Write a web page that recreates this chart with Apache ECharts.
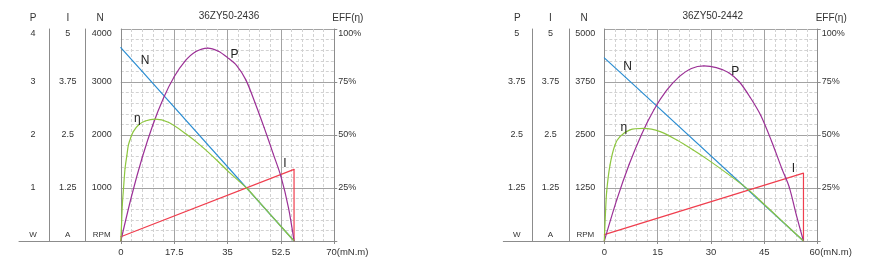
<!DOCTYPE html>
<html><head><meta charset="utf-8">
<script src="https://cdn.jsdelivr.net/npm/echarts@6/dist/echarts.min.js"></script>
<style>html,body{margin:0;padding:0;background:#fff}#c{width:874px;height:266px}</style>
</head><body><div id="c"></div>
<script>
// ---------- Chart 1 : 36ZY50-2436 ----------
const title1 = '36ZY50-2436';
const xTicks1 = [0, 17.5, 35, 52.5, 70];
const pTicks1 = [0, 1, 2, 3, 4];
const iTicks1 = [0, 1.25, 2.5, 3.75, 5];
const nTicks1 = [0, 1000, 2000, 3000, 4000];
const effTicks = [0, 25, 50, 75, 100];

const n1T = [0, 7, 56.8];
const n1V = [3650, 3200, 0];
const i1T = [0, 56.8, 56.8];
const i1V = [0.1, 1.69, 0];
const p1T = [0, 3.5, 7, 10.5, 14, 17.5, 21, 24.5, 28.5, 32, 35, 38, 41, 44, 47, 50, 52.5, 55, 56.8];
const p1V = [0, 0.84, 1.57, 2.19, 2.70, 3.10, 3.39, 3.57, 3.64, 3.58, 3.46, 3.31, 3.04, 2.61, 2.14, 1.64, 1.22, 0.62, 0];
const e1T = [0, 0.25, 0.5, 0.9, 1.4, 2.0, 2.5, 3.2, 4.1, 5.8, 8, 11.3, 15.6, 21.1, 26.6, 32, 35.3, 41.3, 45.2, 50.6, 56.8];
const e1V = [0, 8, 17, 25, 34.3, 40.5, 45.3, 48.5, 51.6, 54.7, 56.6, 57.5, 56.0, 50.8, 44.5, 37.4, 32.7, 24.9, 18.7, 10.0, 0];

// ---------- Chart 2 : 36ZY50-2442 ----------
const title2 = '36ZY50-2442';
const xTicks2 = [0, 15, 30, 45, 60];
const pTicks2 = [0, 1.25, 2.5, 3.75, 5];
const iTicks2 = [0, 1.25, 2.5, 3.75, 5];
const nTicks2 = [0, 1250, 2500, 3750, 5000];

const n2T = [0, 6, 56];
const n2V = [4320, 3860, 0];
const i2T = [0, 56, 56];
const i2V = [0.15, 1.6, 0];
const p2T = [0, 3.5, 7, 10.5, 14, 17.5, 21, 24.5, 28, 31.5, 35, 38, 41, 44, 47, 50, 52, 54, 56];
const p2V = [0, 0.97, 1.81, 2.52, 3.10, 3.55, 3.87, 4.07, 4.13, 4.09, 3.97, 3.75, 3.39, 2.96, 2.36, 1.69, 1.27, 0.61, 0];
const e2T = [0, 0.3, 0.67, 1.6, 3.0, 4.4, 7.2, 11.0, 15.7, 20.4, 25.0, 29.0, 34.5, 40.6, 45, 50, 56];
const e2V = [0, 12, 23.3, 35.8, 45.3, 49.2, 52.4, 53.1, 51.6, 47.6, 42.9, 38.5, 31.9, 24.1, 17.2, 9.4, 0];

const unitP = 'W', unitI = 'A', unitN = 'RPM', unitX = '(mN.m)';

// ---------- styles / layout ----------
const FONT = '"Liberation Sans", Arial, Helvetica, sans-serif';
const TXT = '#333';
const MAJOR = '#a3a3a3';
const MINOR = '#d2d2d2';
const SEP = '#8c8c8c';
const COL = {N: '#2b8dd2', P: '#9b3096', E: '#8dc63f', I: '#f03e4e'};

const charts = [
  {title: title1, xTicks: xTicks1, pTicks: pTicks1, iTicks: iTicks1, nTicks: nTicks1,
   N: [n1T, n1V], I: [i1T, i1V], P: [p1T, p1V], E: [e1T, e1V]},
  {title: title2, xTicks: xTicks2, pTicks: pTicks2, iTicks: iTicks2, nTicks: nTicks2,
   N: [n2T, n2V], I: [i2T, i2V], P: [p2T, p2V], E: [e2T, e2V]}
];
const layout = [
  {left: 120.8, width: 213.5, base: 19, pLine: 49.3, iLine: 85.3, pM: 16.3, iM: 17.6, nM: 19.1,
   hP: 16.3, hI: 17.3, hN: 20.8, tx: 224,
   lab: {N: [1, [3, -11]], E: [8, [4, -13]], P: [10, [7, -3]], I: [1, [-9, -6]]}},
  {left: 604.3, width: 213.4, base: 503.3, pLine: 532.3, iLine: 569.3, pM: 15.6, iM: 18.8, nM: 19,
   hP: 15, hI: 19, hN: 20.3, tx: 707.7,
   lab: {N: [1, [2, -11]], E: [5, [4, -9]], P: [10, [6.5, -1]], I: [1, [-10, -4]]}}
];
const TOP = 29, H = 212;

function tickCfg(t) { return {min: t[0], max: t[t.length - 1], interval: t[1] - t[0]}; }
const RICH = {
  u: {fontSize: 8, color: TXT, padding: [0, 0, 13, 0]},
  t: {fontSize: 9, color: TXT, padding: [10, 0, 0, 0]},
  p: {width: 26},
  x: {fontSize: 9.5, color: TXT}
};
function fmt(t, unit) {
  return v => v === t[0] ? '{u|' + unit + '}' : (v === t[t.length - 1] ? '{t|' + v + '}' : String(v));
}
const split = {show: true, lineStyle: {color: MAJOR, width: 1}};
const minorSplit = {show: true, lineStyle: {color: MINOR, width: 1, type: [3, 2]}};

const grids = [], xAxes = [], yAxes = [], series = [], titles = [];
charts.forEach((c, k) => {
  const L = layout[k];
  grids.push({left: L.left, top: TOP, width: L.width, height: H, containLabel: false, outerBoundsMode: 'none'});
  const xmax = c.xTicks[c.xTicks.length - 1];
  xAxes.push({
    gridIndex: k, type: 'value', ...tickCfg(c.xTicks),
    axisLine: {show: true, lineStyle: {color: SEP, width: 1}},
    axisTick: {show: true, length: 3, lineStyle: {color: SEP}},
    axisLabel: {fontSize: 9.5, color: TXT, margin: 6, rich: RICH,
      formatter: v => v === xmax ? '{p|}{x|' + v + '}{x|' + unitX + '}' : String(v)},
    splitLine: split, minorTick: {show: false, splitNumber: 5}, minorSplitLine: minorSplit
  });
  const base = k * 4;
  yAxes.push({
    gridIndex: k, type: 'value', position: 'left', offset: 0, ...tickCfg(c.nTicks),
    name: 'N', nameLocation: 'end', nameGap: 6,
    nameTextStyle: {fontSize: 10, color: TXT, padding: [0, 2 * L.hN, 0, 0]},
    axisLine: {show: true, lineStyle: {color: SEP}}, axisTick: {show: false},
    axisLabel: {margin: L.nM, align: 'center', fontSize: 9, color: TXT, rich: RICH, formatter: fmt(c.nTicks, unitN)},
    splitLine: split, minorTick: {show: false, splitNumber: 5}, minorSplitLine: minorSplit
  });
  yAxes.push({
    gridIndex: k, type: 'value', position: 'left', offset: L.left - L.iLine, ...tickCfg(c.iTicks),
    name: 'I', nameLocation: 'end', nameGap: 6,
    nameTextStyle: {fontSize: 10, color: TXT, padding: [0, 2 * L.hI, 0, 0]},
    axisLine: {show: true, lineStyle: {color: SEP}}, axisTick: {show: false},
    axisLabel: {margin: L.iM, align: 'center', fontSize: 9, color: TXT, rich: RICH, formatter: fmt(c.iTicks, unitI)},
    splitLine: {show: false}
  });
  yAxes.push({
    gridIndex: k, type: 'value', position: 'left', offset: L.left - L.pLine, ...tickCfg(c.pTicks),
    name: 'P', nameLocation: 'end', nameGap: 6,
    nameTextStyle: {fontSize: 10, color: TXT, padding: [0, 2 * L.hP, 0, 0]},
    axisLine: {show: true, lineStyle: {color: SEP}}, axisTick: {show: false},
    axisLabel: {margin: L.pM, align: 'center', fontSize: 9, color: TXT, rich: RICH, formatter: fmt(c.pTicks, unitP)},
    splitLine: {show: false}
  });
  yAxes.push({
    gridIndex: k, type: 'value', position: 'right', offset: 0, ...tickCfg(effTicks),
    name: 'EFF(η)', nameLocation: 'end', nameGap: 6,
    nameTextStyle: {fontSize: 10, color: TXT, padding: [0, 0, 0, 27]},
    axisLine: {show: true, lineStyle: {color: SEP}},
    axisTick: {show: true, length: 3, lineStyle: {color: SEP}},
    axisLabel: {margin: 4, fontSize: 9, color: TXT, rich: RICH,
      formatter: v => v === 0 ? '' : (v === 100 ? '{t|' + v + '%}' : v + '%')},
    splitLine: {show: false}
  });
  titles.push({text: c.title, left: L.tx, top: 6, textAlign: 'center',
    textStyle: {fontSize: 10, fontWeight: 'normal', color: TXT, fontFamily: FONT}});

  const defs = [['N', 0, false], ['I', 1, false], ['P', 2, 0.3], ['E', 3, 0.3]];
  defs.forEach(([key, yi, sm]) => {
    const [t, v] = c[key];
    const [li, off] = L.lab[key];
    const data = t.map((x, i) => {
      const item = {value: [x, v[i]]};
      if (i === li) item.label = {show: true, formatter: key === 'E' ? 'η' : key, position: 'inside',
        offset: off, fontSize: 12, color: '#222', fontFamily: FONT};
      return item;
    });
    series.push({
      type: 'line', xAxisIndex: k, yAxisIndex: base + yi, data: data,
      smooth: sm,
      symbol: 'circle', symbolSize: 1, showSymbol: true, silent: true,
      lineStyle: {color: COL[key], width: 1.2}, itemStyle: {color: COL[key]},
      label: {show: false}, animation: false, clip: false
    });
  });
});
layout.forEach((L, k) => {
  grids.push({left: L.base, top: TOP, width: L.left - L.base, height: H, containLabel: false, outerBoundsMode: 'none'});
  xAxes.push({gridIndex: 2 + k, type: 'value', min: 0, max: 1,
    axisLine: {show: true, lineStyle: {color: SEP}}, axisTick: {show: false},
    axisLabel: {show: false}, splitLine: {show: false}});
  yAxes.push({gridIndex: 2 + k, type: 'value', show: false});
});

const chart = echarts.init(document.getElementById('c'), null, {renderer: 'canvas'});
chart.setOption({
  animation: false,
  backgroundColor: '#fff',
  textStyle: {fontFamily: FONT},
  title: titles,
  grid: grids, xAxis: xAxes, yAxis: yAxes, series: series
});
</script></body></html>
